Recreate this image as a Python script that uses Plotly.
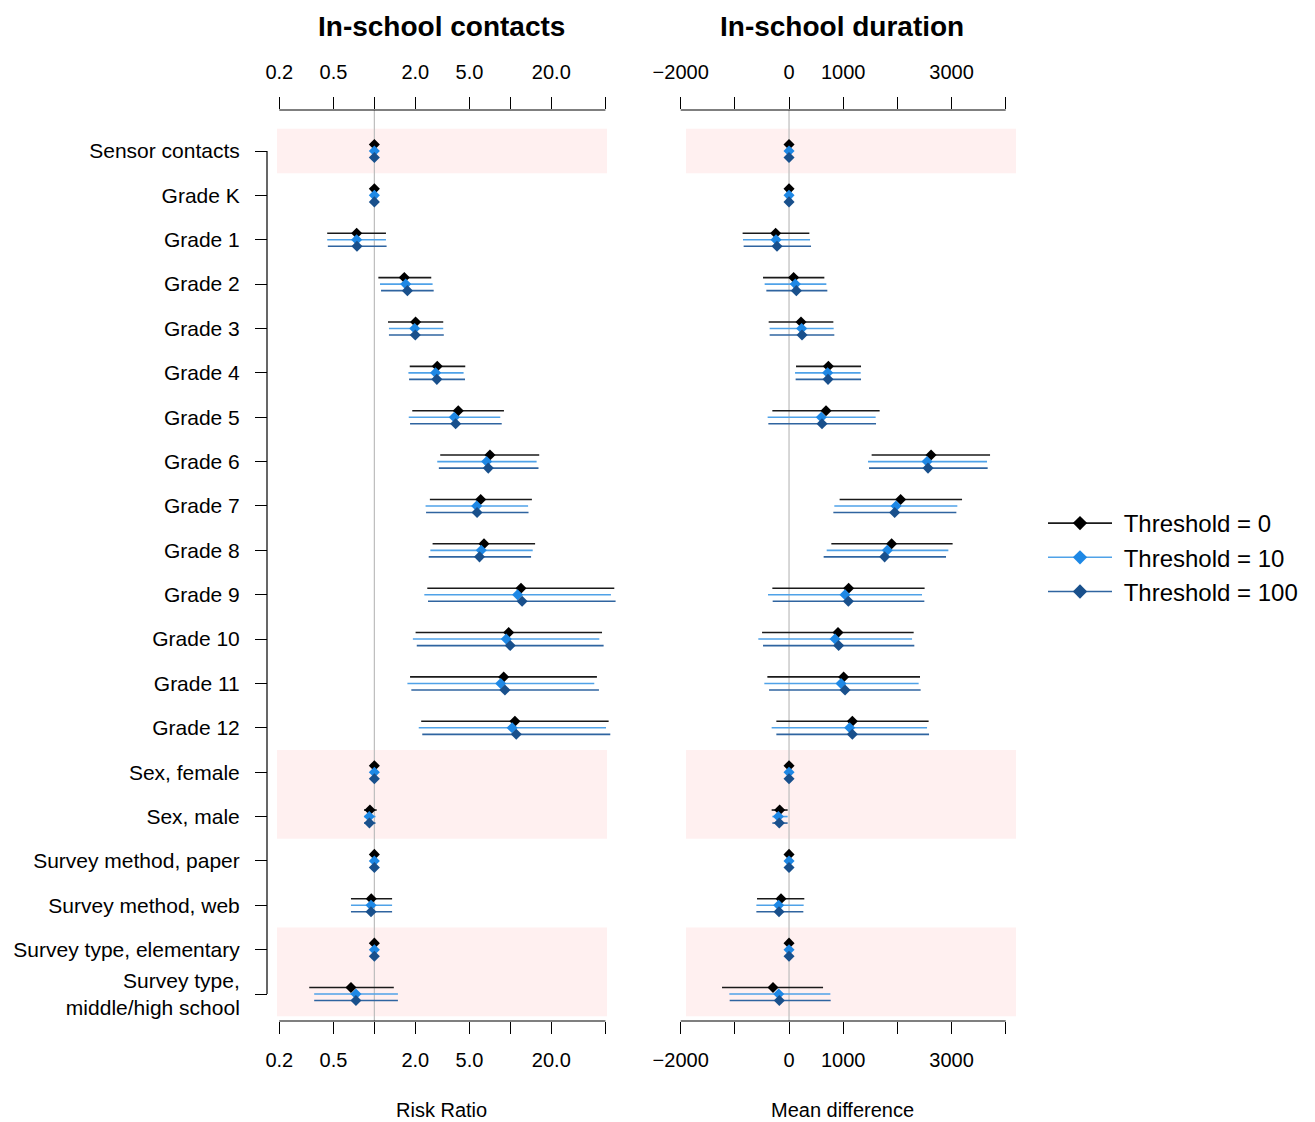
import math
import plotly.graph_objects as go

# ---------------- data ----------------
row_labels = ["Sensor contacts", "Grade K", "Grade 1", "Grade 2", "Grade 3", "Grade 4",
              "Grade 5", "Grade 6", "Grade 7", "Grade 8", "Grade 9", "Grade 10",
              "Grade 11", "Grade 12", "Sex, female", "Sex, male",
              "Survey method, paper", "Survey method, web",
              "Survey type, elementary", "Survey type,<br>middle/high school"]

series_names = ["Threshold = 0", "Threshold = 10", "Threshold = 100"]

# Risk ratio (in-school contacts)
rr_t0 = [1, 1, 0.741, 1.66, 2.01, 2.90, 4.14, 7.08, 6.05, 6.40, 11.97, 9.72, 8.93, 10.8,
         1, 0.928, 1, 0.949, 1, 0.673]
rr_t0_lo = [1, 1, 0.450, 1.07, 1.26, 1.82, 1.90, 3.05, 2.56, 2.68, 2.45, 2.01, 1.83, 2.21,
            1, 0.839, 1, 0.673, 1, 0.332]
rr_t0_hi = [1, 1, 1.217, 2.62, 3.21, 4.66, 8.97, 16.3, 14.4, 15.2, 58.1, 47.2, 43.3, 52.8,
            1, 1.04, 1, 1.35, 1, 1.39]
rr_t10 = [1, 1, 0.741, 1.70, 1.98, 2.82, 3.87, 6.69, 5.65, 6.11, 11.3, 9.33, 8.49, 10.3,
          1, 0.917, 1, 0.945, 1, 0.732]
rr_t10_lo = [1, 1, 0.450, 1.10, 1.28, 1.78, 1.79, 2.90, 2.38, 2.58, 2.33, 1.92, 1.75, 2.12,
             1, 0.84, 1, 0.673, 1, 0.361]
rr_t10_hi = [1, 1, 1.217, 2.68, 3.21, 4.53, 8.43, 15.6, 13.5, 14.6, 54.9, 45.1, 41.4, 50.5,
             1, 1.02, 1, 1.35, 1, 1.49]
rr_t100 = [1, 1, 0.745, 1.75, 2.00, 2.88, 3.96, 6.88, 5.69, 5.93, 12.2, 9.98, 9.12, 11.05,
           1, 0.92, 1, 0.945, 1, 0.732]
rr_t100_lo = [1, 1, 0.455, 1.12, 1.28, 1.80, 1.83, 2.98, 2.40, 2.51, 2.48, 2.05, 1.87, 2.25,
              1, 0.84, 1, 0.673, 1, 0.361]
rr_t100_hi = [1, 1, 1.23, 2.73, 3.24, 4.64, 8.64, 16.1, 13.6, 14.2, 59.4, 48.5, 44.8, 54.3,
              1, 1.02, 1, 1.35, 1, 1.49]

# Mean difference (in-school duration)
md_t0 = [0, 0, -247, 85, 221, 726, 683, 2622, 2060, 1894, 1100, 904, 1008, 1169,
         0, -173, 0, -148, 0, -296]
md_t0_lo = [0, 0, -857, -480, -376, 129, -308, 1525, 934, 781, -308, -498, -400, -234,
            0, -321, 0, -591, 0, -1237]
md_t0_hi = [0, 0, 375, 652, 818, 1329, 1673, 3711, 3194, 3020, 2503, 2301, 2418, 2577,
            0, -26, 0, 282, 0, 628]
md_t10 = [0, 0, -240, 116, 233, 713, 596, 2548, 1975, 1815, 1034, 849, 960, 1119,
          0, -197, 0, -191, 0, -191]
md_t10_lo = [0, 0, -850, -450, -358, 111, -395, 1458, 836, 695, -388, -567, -456, -321,
             0, -308, 0, -603, 0, -1102]
md_t10_hi = [0, 0, 388, 689, 824, 1322, 1599, 3655, 3107, 2941, 2455, 2271, 2393, 2548,
             0, -26, 0, 270, 0, 763]
md_t100 = [0, 0, -222, 135, 240, 720, 609, 2566, 1950, 1765, 1095, 916, 1034, 1169,
           0, -180, 0, -185, 0, -179]
md_t100_lo = [0, 0, -838, -419, -358, 122, -382, 1477, 818, 639, -302, -480, -369, -234,
              0, -308, 0, -603, 0, -1096]
md_t100_hi = [0, 0, 406, 707, 836, 1329, 1606, 3667, 3089, 2898, 2498, 2313, 2430, 2585,
              0, -26, 0, 264, 0, 769]

rr_ticks = [0.2, 0.5, 1, 2, 5, 10, 20, 50]
rr_ticktext = ["0.2", "0.5", "", "2.0", "5.0", "", "20.0", ""]
md_ticks = [-2000, -1000, 0, 1000, 2000, 3000, 4000]
md_ticktext = ["\u22122000", "", "0", "1000", "", "3000", ""]

shaded_rows = [[0, 0], [14, 15], [18, 19]]

# ---------------- style ----------------
W, H = 1315, 1122
FONT = "Liberation Sans, Arial, Helvetica, sans-serif"
marker_colors = ["#000000", "#1E88E5", "#19508C"]
line_colors = ["#1a1a1a", "#4FA2E8", "#2F64A0"]
offsets = [-0.147, 0.0, 0.147]


def px(x):
    return x / W


def py(y):
    return 1 - y / H


# layout geometry (pixels)
L_dom = (277, 617)
R_dom = (680, 1017)
top_px, bot_px = 110, 1021
row0_px, row_step = 151, 44.37

dec_px = 136.0
l_r0 = math.log10(0.2) - (279.3 - L_dom[0]) / dec_px
l_r1 = l_r0 + (L_dom[1] - L_dom[0]) / dec_px

ppu = 325.0 / 6000
r_r0 = -2000 - (680.7 - R_dom[0]) / ppu
r_r1 = r_r0 + (R_dom[1] - R_dom[0]) / ppu

y_top = (top_px - row0_px) / row_step
y_bot = (bot_px - row0_px) / row_step

fig = go.Figure()

n = len(row_labels)
rows = list(range(n))

# reference lines
fig.add_trace(go.Scatter(x=[1, 1], y=[y_bot, y_top], mode="lines",
                         line=dict(color="#BDBDBD", width=1.2), xaxis="x", yaxis="y",
                         showlegend=False, hoverinfo="skip"))
fig.add_trace(go.Scatter(x=[0, 0], y=[y_bot, y_top], mode="lines",
                         line=dict(color="#BDBDBD", width=1.2), xaxis="x2", yaxis="y",
                         showlegend=False, hoverinfo="skip"))

rr_sets = [(rr_t0, rr_t0_lo, rr_t0_hi), (rr_t10, rr_t10_lo, rr_t10_hi),
           (rr_t100, rr_t100_lo, rr_t100_hi)]
md_sets = [(md_t0, md_t0_lo, md_t0_hi), (md_t10, md_t10_lo, md_t10_hi),
           (md_t100, md_t100_lo, md_t100_hi)]

for k in range(3):
    yk = [r + offsets[k] for r in rows]
    est, lo, hi = rr_sets[k]
    fig.add_trace(go.Scatter(
        x=est, y=yk, mode="markers", xaxis="x", yaxis="y", showlegend=False,
        marker=dict(symbol="diamond", size=8.5, color=marker_colors[k]),
        error_x=dict(type="data", symmetric=False,
                     array=[h - e for h, e in zip(hi, est)],
                     arrayminus=[e - l for e, l in zip(est, lo)],
                     color=line_colors[k], thickness=1.6, width=0)))
    est, lo, hi = md_sets[k]
    fig.add_trace(go.Scatter(
        x=est, y=yk, mode="markers", xaxis="x2", yaxis="y", showlegend=False,
        marker=dict(symbol="diamond", size=8.5, color=marker_colors[k]),
        error_x=dict(type="data", symmetric=False,
                     array=[h - e for h, e in zip(hi, est)],
                     arrayminus=[e - l for e, l in zip(est, lo)],
                     color=line_colors[k], thickness=1.6, width=0)))

# legend entries
for k in range(3):
    fig.add_trace(go.Scatter(x=[None], y=[None], mode="lines+markers",
                             name="\u00a0" + series_names[k],
                             xaxis="x", yaxis="y",
                             line=dict(color=line_colors[k], width=1.6),
                             marker=dict(symbol="diamond", size=11, color=marker_colors[k])))

# shapes: shaded bands, axis lines
shapes = []
for a, b in shaded_rows:
    for xr, x0, x1 in (("x domain", 0.0, (607 - L_dom[0]) / (L_dom[1] - L_dom[0])),
                       ("x2 domain", (686 - R_dom[0]) / (R_dom[1] - R_dom[0]),
                        (1016 - R_dom[0]) / (R_dom[1] - R_dom[0]))):
        shapes.append(dict(type="rect", xref=xr, yref="y", x0=x0, x1=x1,
                           y0=a - 0.5, y1=b + 0.5, fillcolor="#FFF0F0",
                           line=dict(width=0), layer="below"))


def lfrac(v):
    return (math.log10(v) - l_r0) / (l_r1 - l_r0)


def rfrac(v):
    return (v - r_r0) / (r_r1 - r_r0)


for yy in (0, 1):
    shapes.append(dict(type="line", xref="x domain", yref="y domain",
                       x0=lfrac(rr_ticks[0]), x1=lfrac(rr_ticks[-1]), y0=yy, y1=yy,
                       line=dict(color="black", width=1.2)))
    shapes.append(dict(type="line", xref="x2 domain", yref="y domain",
                       x0=rfrac(md_ticks[0]), x1=rfrac(md_ticks[-1]), y0=yy, y1=yy,
                       line=dict(color="black", width=1.2)))
# left category axis line
shapes.append(dict(type="line", xref="paper", yref="y", x0=px(267), x1=px(267),
                   y0=rows[0], y1=rows[-1], line=dict(color="black", width=1.2)))

tickfont = dict(family=FONT, size=20, color="black")
common_x = dict(showgrid=False, zeroline=False, showline=False, ticks="outside",
                ticklen=12, tickwidth=1.2, tickcolor="black", tickfont=tickfont,
                fixedrange=True, automargin=False)

fig.update_layout(
    width=W, height=H,
    margin=dict(l=0, r=0, t=0, b=0, autoexpand=False),
    paper_bgcolor="white", plot_bgcolor="rgba(0,0,0,0)",
    font=dict(family=FONT, color="black"),
    xaxis=dict(type="log", domain=[px(L_dom[0]), px(L_dom[1])], range=[l_r0, l_r1],
               anchor="y", side="bottom", tickvals=rr_ticks, ticktext=rr_ticktext,
               ticklabelstandoff=9, **common_x),
    xaxis3=dict(type="log", domain=[px(L_dom[0]), px(L_dom[1])], range=[l_r0, l_r1],
                anchor="y", side="top", overlaying="x", matches="x",
                tickvals=rr_ticks, ticktext=rr_ticktext, ticklabelstandoff=10, **common_x),
    xaxis2=dict(type="linear", domain=[px(R_dom[0]), px(R_dom[1])], range=[r_r0, r_r1],
                anchor="y", side="bottom", tickvals=md_ticks, ticktext=md_ticktext,
                ticklabelstandoff=9, **common_x),
    xaxis4=dict(type="linear", domain=[px(R_dom[0]), px(R_dom[1])], range=[r_r0, r_r1],
                anchor="y", side="top", overlaying="x2", matches="x2",
                tickvals=md_ticks, ticktext=md_ticktext, ticklabelstandoff=10, **common_x),
    yaxis=dict(domain=[py(bot_px), py(top_px)], range=[y_bot, y_top],
               anchor="free", position=px(267), side="left",
               tickvals=rows, ticktext=row_labels, showgrid=False, zeroline=False,
               showline=False, ticks="outside", ticklen=12, tickwidth=1.2,
               tickcolor="black", ticklabelstandoff=11, automargin=False,
               tickfont=dict(family=FONT, size=21, color="black"), fixedrange=True),
    shapes=shapes,
    legend=dict(x=px(1043), y=py(501), xanchor="left", yanchor="top",
                font=dict(family=FONT, size=24, color="black"),
                bgcolor="rgba(0,0,0,0)", itemwidth=64, tracegroupgap=0),
    annotations=[
        dict(text="<b>In-school contacts</b>", xref="paper", yref="paper",
             x=px(441), y=py(26), xanchor="center", yanchor="middle",
             showarrow=False, font=dict(size=28, family=FONT)),
        dict(text="<b>In-school duration</b>", xref="paper", yref="paper",
             x=px(842), y=py(26), xanchor="center", yanchor="middle",
             showarrow=False, font=dict(size=28, family=FONT)),
        dict(text="Risk Ratio", xref="paper", yref="paper",
             x=px(441), y=py(1110), xanchor="center", yanchor="middle",
             showarrow=False, font=dict(size=20, family=FONT)),
        dict(text="Mean difference", xref="paper", yref="paper",
             x=px(842), y=py(1110), xanchor="center", yanchor="middle",
             showarrow=False, font=dict(size=20, family=FONT)),
    ],
)

# invisible dummy traces so top axes are created
fig.add_trace(go.Scatter(x=[None], y=[None], xaxis="x3", yaxis="y", showlegend=False))
fig.add_trace(go.Scatter(x=[None], y=[None], xaxis="x4", yaxis="y", showlegend=False))

fig.write_html("out.html", config={"displayModeBar": False},
               post_script="document.body.style.margin='0px';document.body.style.overflow='hidden';")
